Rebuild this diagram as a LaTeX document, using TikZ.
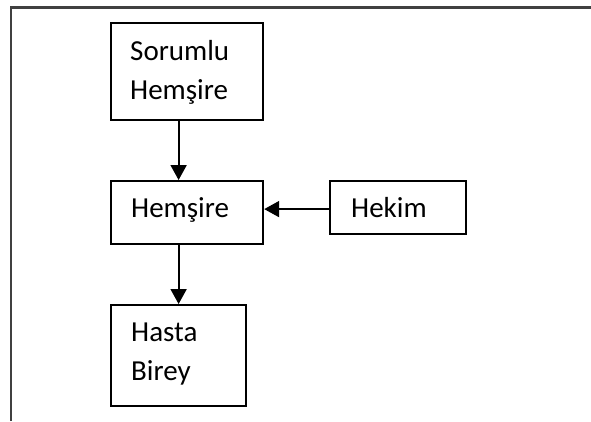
\documentclass[tikz,border=0pt]{standalone}
\usepackage{fontspec}
\setmainfont{Carlito}
\usetikzlibrary{arrows.meta}
\begin{document}
\begin{tikzpicture}[x=1pt,y=-1pt,
  box/.style={draw=black,line width=2.2pt,rectangle,inner sep=0pt,anchor=north west},
  lbl/.style={anchor=base west,inner sep=0pt,font=\fontsize{29}{39}\selectfont},
  arr/.style={line width=1.9pt,-{Triangle[length=15pt,width=16pt]}},
  frame/.style={draw=black!75,line width=2.2pt}]
\useasboundingbox (0,0) rectangle (591,421);
% page frame lines (top and left)
\coordinate (fa) at (11,421);
\coordinate (fb) at (11,7.5);
\coordinate (fc) at (591,7.5);
\draw[frame] (fa) -- (fb) -- (fc);
% boxes
\node[box,minimum width=152pt,minimum height=97pt] (b1) at (110,22) {};
\node[box,minimum width=152pt,minimum height=63pt] (b2) at (110,180) {};
\node[box,minimum width=136pt,minimum height=53pt] (hk) at (329,180) {};
\node[box,minimum width=135pt,minimum height=101pt] (b3) at (110,304) {};
% labels
\node[lbl] (t1) at (130,60) {Sorumlu};
\node[lbl] (t2) at (130,99) {Hemşire};
\node[lbl] (t3) at (131,217) {Hemşire};
\node[lbl] (t4) at (351,217) {Hekim};
\node[lbl] (t5) at (131,341) {Hasta};
\node[lbl] (t6) at (131,380) {Birey};
% connectors
\draw[arr] (b1.south -| b3.north) -- (b2.north -| b3.north);
\draw[arr] (b2.south -| b3.north) -- (b3.north);
\draw[arr] ([yshift=-1.5pt]hk.west) -- ([yshift=-1.5pt]b2.east |- hk.west);
\end{tikzpicture}
\end{document}
